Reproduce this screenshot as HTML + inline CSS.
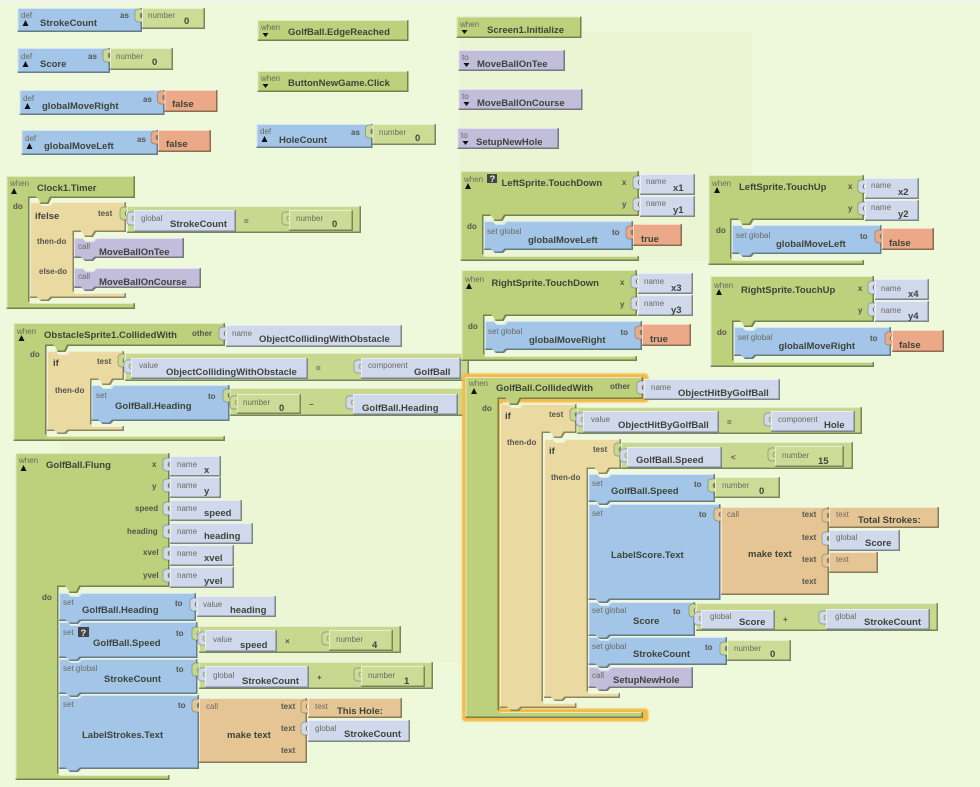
<!DOCTYPE html>
<html><head><meta charset="utf-8"><style>
html,body{margin:0;padding:0;background:#eef8da}
svg{display:block;filter:blur(.3px)}
svg>path,svg>rect{filter:url(#b)}
svg>use{stroke:#43503f;stroke-opacity:.5;stroke-width:.7}
svg>.n{filter:none}
svg>.gl{filter:blur(.7px)}
text{font:bold 9.5px "Liberation Sans",sans-serif;fill:#3d4439}
text.s{font:8px "Liberation Sans",sans-serif;fill:#6b6b60}
text.l{font:bold 8px "Liberation Sans",sans-serif;fill:#55554d}
.bl{fill:#a3c5e8}.gr{fill:#bdd07c}.ng{fill:#cddb97}.og{fill:#c8d88f}.ta{fill:#ead9a0}.pu{fill:#c1bddb}.na{fill:#d0d8ec}.or{fill:#eba987}.tt{fill:#e5c594}
.k{fill:#111}
</style></head><body>
<svg xmlns="http://www.w3.org/2000/svg" width="980" height="787" viewBox="0 0 980 787">
<defs>
<filter id="b" x="-2%" y="-2%" width="104%" height="104%" color-interpolation-filters="sRGB">
<feOffset in="SourceAlpha" dx="1" dy="1" result="o1"/>
<feComposite in="SourceAlpha" in2="o1" operator="out" result="tl"/>
<feFlood flood-color="#fff" flood-opacity=".55"/>
<feComposite in2="tl" operator="in" result="hl"/>
<feOffset in="SourceAlpha" dx="-1.5" dy="-1.5" result="o2"/>
<feComposite in="SourceAlpha" in2="o2" operator="out" result="br"/>
<feFlood flood-color="#2a3320" flood-opacity=".5"/>
<feComposite in2="br" operator="in" result="sh"/>
<feMerge><feMergeNode in="SourceGraphic"/><feMergeNode in="hl"/><feMergeNode in="sh"/></feMerge>
</filter>
<path id="t" d="M2 0h-6q-3 1-3 3v7q0 2 3 3h6v-4h-1q-3 0-3-2.500t3-2.500h1z"/>
</defs>
<rect class="n" x="0" y="0" width="980" height="787" fill="#eef8da"/>
<rect class="n" x="0" y="0" width="980" height="2" fill="#f2f3ec"/>
<rect class="n" x="460" y="31" width="292" height="230" fill="#ecf5d3"/>
<rect class="n" x="60" y="440" width="420" height="222" fill="#edf6d4"/>

<!-- defs left -->
<rect class="bl" x="17.5" y="8" width="124.5" height="24"/><use href="#t" class="ng" x="142" y="9"/><rect class="ng" x="142" y="8" width="63" height="21"/>
<text class="s" x="21" y="18">def</text><path class="n k" d="M22.5 26h6l-3-6z"/><text x="40" y="26">StrokeCount</text><text class="l" x="120" y="18">as</text><text class="s" x="148" y="18">number</text><text x="184" y="24">0</text>

<rect class="bl" x="17.5" y="48" width="92.5" height="25"/><use href="#t" class="ng" x="110" y="49"/><rect class="ng" x="110" y="48" width="63" height="22"/>
<text class="s" x="21" y="59">def</text><path class="n k" d="M22.5 67h6l-3-6z"/><text x="40" y="67">Score</text><text class="l" x="88" y="59">as</text><text class="s" x="116" y="59">number</text><text x="152" y="65">0</text>

<rect class="bl" x="19.5" y="90" width="145" height="25"/><use href="#t" class="or" x="164.5" y="91"/><rect class="or" x="164.5" y="90" width="53" height="22"/>
<text class="s" x="23" y="101">def</text><path class="n k" d="M24.5 109h6l-3-6z"/><text x="42" y="109">globalMoveRight</text><text class="l" x="143" y="102">as</text><text x="172" y="107">false</text>

<rect class="bl" x="21.5" y="130" width="136.5" height="25"/><use href="#t" class="or" x="158" y="131"/><rect class="or" x="158" y="130" width="53" height="22"/>
<text class="s" x="25" y="141">def</text><path class="n k" d="M26.5 149h6l-3-6z"/><text x="44" y="149">globalMoveLeft</text><text class="l" x="137" y="142">as</text><text x="166" y="147">false</text>

<!-- middle top -->
<rect class="gr" x="257.5" y="20" width="151" height="21"/><text class="s" x="261" y="30">when</text><path class="n k" d="M262.5 33h6l-3 4z"/><text x="288" y="35">GolfBall.EdgeReached</text>
<rect class="gr" x="257.5" y="71" width="151" height="21"/><text class="s" x="261" y="81">when</text><path class="n k" d="M262.5 84h6l-3 4z"/><text x="288" y="86">ButtonNewGame.Click</text>
<rect class="bl" x="256.5" y="124" width="116" height="24"/><use href="#t" class="ng" x="372.5" y="125"/><rect class="ng" x="372.5" y="124" width="63.5" height="21"/>
<text class="s" x="260" y="134">def</text><path class="n k" d="M261.5 142h6l-3-6z"/><text x="279" y="143">HoleCount</text><text class="l" x="351" y="135">as</text><text class="s" x="379" y="135">number</text><text x="415" y="141">0</text>

<!-- right top -->
<rect class="gr" x="456.5" y="16.5" width="125" height="21.5"/><text class="s" x="460" y="27">when</text><path class="n k" d="M461.5 30h6l-3 4z"/><text x="487" y="33">Screen1.Initialize</text>
<rect class="pu" x="458.5" y="50" width="106.5" height="21"/><text class="s" x="462" y="60">to</text><path class="n k" d="M463.5 63h6l-3 4z"/><text x="477" y="67">MoveBallOnTee</text>
<rect class="pu" x="458.5" y="89" width="124" height="21"/><text class="s" x="462" y="99">to</text><path class="n k" d="M463.5 102h6l-3 4z"/><text x="477" y="106">MoveBallOnCourse</text>
<rect class="pu" x="457.5" y="128" width="101.5" height="21"/><text class="s" x="461" y="138">to</text><path class="n k" d="M462.5 141h6l-3 4z"/><text x="476" y="145">SetupNewHole</text>

<!-- Clock1.Timer -->
<path class="gr" d="M6.5 176H135V198H51.5l-3 6h-8l-3-6H29.5V303H135V309H6.5z"/>
<path class="ta" d="M30 202h8l3 3h8l3-3H126V232H96l-3 5h-8l-3-5H74V293H126V298H52l-3 3h-8l-3-3H30z"/>
<use href="#t" class="og" x="127" y="207"/><rect class="og" x="127" y="206" width="234" height="27"/>
<use href="#t" class="na" x="134" y="212"/><rect class="na" x="134" y="210" width="102" height="22"/>
<use href="#t" class="ng" x="289" y="212"/><rect class="ng" x="289" y="210" width="64" height="21"/>
<path class="pu" d="M74 238h8l3 3h8l3-3H184V258H96l-3 3h-8l-3-3H74z"/>
<path class="pu" d="M74 268h8l3 3h8l3-3H201V288H96l-3 3h-8l-3-3H74z"/>
<text class="s" x="10" y="186">when</text><path class="n k" d="M11 194h6l-3-6z"/><text x="37" y="191">Clock1.Timer</text><text class="l" x="13" y="209">do</text>
<text x="35" y="219">ifelse</text><text class="l" x="98" y="216">test</text><text class="l" x="37" y="244">then-do</text><text class="l" x="39" y="274">else-do</text>
<text class="s" x="141" y="221">global</text><text x="170" y="227">StrokeCount</text><text class="l" x="244" y="224">=</text><text class="s" x="296" y="221">number</text><text x="332" y="227">0</text>
<text class="s" x="78" y="249">call</text><text x="99" y="255">MoveBallOnTee</text><text class="s" x="78" y="279">call</text><text x="99" y="285">MoveBallOnCourse</text>

<!-- ObstacleSprite1 -->
<path class="gr" d="M13.5 323H225V346H68.5l-3 6h-8l-3-6H46.5V436H225V441H13.5z"/>
<use href="#t" class="na" x="226" y="327"/><rect class="na" x="226" y="325" width="176" height="22"/>
<path class="ta" d="M47 351h8l3 3h8l3-3H124V380H113.5l-3 5h-8l-3-5H91.5V426H124V431H69l-3 3h-8l-3-3H47z"/>
<use href="#t" class="og" x="125" y="354"/><rect class="og" x="125" y="353" width="344" height="28"/>
<use href="#t" class="na" x="131" y="360"/><rect class="na" x="131" y="358" width="177" height="21"/>
<use href="#t" class="na" x="361" y="360"/><rect class="na" x="361" y="358" width="100" height="21"/>
<path class="bl" d="M91.5 385h8l3 3h8l3-3H229.5V421H113.5l-3 3h-8l-3-3H91.5z"/>
<use href="#t" class="og" x="230" y="389"/><rect class="og" x="230" y="388" width="235" height="28"/>
<use href="#t" class="ng" x="237" y="396"/><rect class="ng" x="237" y="394" width="64" height="20"/>
<use href="#t" class="na" x="353" y="396"/><rect class="na" x="353" y="394" width="105" height="21"/>
<text class="s" x="17" y="334">when</text><path class="n k" d="M18.5 341h6l-3-6z"/><text x="44" y="338">ObstacleSprite1.CollidedWith</text><text class="l" x="192" y="336">other</text>
<text class="s" x="232" y="336">name</text><text x="259" y="342">ObjectCollidingWithObstacle</text><text class="l" x="30" y="357">do</text>
<text x="53" y="366">if</text><text class="l" x="97" y="364">test</text><text class="l" x="55" y="393">then-do</text>
<text class="s" x="139" y="368">value</text><text x="166" y="375">ObjectCollidingWithObstacle</text><text class="l" x="316" y="371">=</text><text class="s" x="368" y="368">component</text><text x="414" y="375">GolfBall</text>
<text class="s" x="96" y="398">set</text><text x="115" y="409">GolfBall.Heading</text><text class="l" x="208" y="399">to</text>
<text class="s" x="243" y="405">number</text><text x="279" y="411">0</text><text class="l" x="309" y="407">&#8722;</text><text x="362" y="411">GolfBall.Heading</text>

<!-- GolfBall.Flung -->
<path class="gr" d="M15.5 453H169.5V587H80.5l-3 6h-8l-3-6H58.5V775H169.5V780H15.5z"/>
<use href="#t" class="na" x="170" y="458"/><rect class="na" x="170" y="456" width="51" height="20.500"/>
<use href="#t" class="na" x="170" y="479"/><rect class="na" x="170" y="477" width="51" height="21"/>
<use href="#t" class="na" x="170" y="502"/><rect class="na" x="170" y="500" width="72" height="21"/>
<use href="#t" class="na" x="170" y="525"/><rect class="na" x="170" y="523" width="83" height="21"/>
<use href="#t" class="na" x="170" y="547"/><rect class="na" x="170" y="545" width="64" height="21"/>
<use href="#t" class="na" x="170" y="569"/><rect class="na" x="170" y="567" width="64" height="21"/>
<text class="s" x="19" y="463">when</text><path class="n k" d="M20.500 471h6l-3-6z"/><text x="46" y="468">GolfBall.Flung</text>
<text class="l" x="152" y="467">x</text><text class="l" x="152" y="489">y</text><text class="l" x="135" y="511">speed</text><text class="l" x="127" y="534">heading</text><text class="l" x="143" y="555">xvel</text><text class="l" x="143" y="578">yvel</text>
<text class="s" x="177" y="467">name</text><text x="204" y="473">x</text><text class="s" x="177" y="488">name</text><text x="204" y="494">y</text><text class="s" x="177" y="511">name</text><text x="204" y="516">speed</text>
<text class="s" x="177" y="534">name</text><text x="204" y="539">heading</text><text class="s" x="177" y="556">name</text><text x="204" y="561">xvel</text><text class="s" x="177" y="578">name</text><text x="204" y="584">yvel</text>
<text class="l" x="42" y="600">do</text>
<path class="bl" d="M59 593h8l3 3h8l3-3H196V621H81l-3 3h-8l-3-3H59z"/>
<path class="bl" d="M59 622h8l3 3h8l3-3H197.500V658H81l-3 3h-8l-3-3H59z"/>
<path class="bl" d="M59 659h8l3 3h8l3-3H197.500V694H81l-3 3h-8l-3-3H59z"/>
<path class="bl" d="M59 695h8l3 3h8l3-3H199V769H81l-3 3h-8l-3-3H59z"/>
<use href="#t" class="na" x="197" y="598"/><rect class="na" x="197" y="596" width="79" height="21"/>
<use href="#t" class="og" x="199" y="627"/><rect class="og" x="199" y="626" width="202" height="27"/>
<use href="#t" class="na" x="205" y="632"/><rect class="na" x="205" y="630" width="72" height="22"/>
<use href="#t" class="ng" x="329" y="632"/><rect class="ng" x="329" y="630" width="64" height="21"/>
<use href="#t" class="og" x="199" y="663"/><rect class="og" x="199" y="662" width="234" height="27"/>
<use href="#t" class="na" x="205" y="668"/><rect class="na" x="205" y="666" width="104" height="22"/>
<use href="#t" class="ng" x="361" y="668"/><rect class="ng" x="361" y="666" width="64" height="21"/>
<use href="#t" class="tt" x="199" y="699"/><rect class="tt" x="199" y="698" width="108" height="65"/>
<use href="#t" class="tt" x="308" y="700"/><rect class="tt" x="308" y="698" width="94" height="20"/>
<use href="#t" class="na" x="308" y="722"/><rect class="na" x="308" y="720" width="102" height="22"/>
<text class="s" x="63" y="605">set</text><text x="82" y="613">GolfBall.Heading</text><text class="l" x="175" y="606">to</text><text class="s" x="203" y="607">value</text><text x="230" y="613">heading</text>
<text class="s" x="63" y="635">set</text><rect class="n" x="78" y="627" width="11" height="10" fill="#444"/><text x="80.500" y="636" style="fill:#eee">?</text><text x="93" y="646">GolfBall.Speed</text><text class="l" x="176" y="636">to</text>
<text class="s" x="213" y="642">value</text><text x="240" y="648">speed</text><text class="l" x="285" y="644">&#215;</text><text class="s" x="336" y="642">number</text><text x="372" y="648">4</text>
<text class="s" x="63" y="671">set global</text><text x="104" y="682">StrokeCount</text><text class="l" x="176" y="672">to</text>
<text class="s" x="213" y="678">global</text><text x="242" y="684">StrokeCount</text><text class="l" x="317" y="680">+</text><text class="s" x="368" y="678">number</text><text x="404" y="684">1</text>
<text class="s" x="63" y="707">set</text><text x="82" y="738">LabelStrokes.Text</text><text class="l" x="178" y="708">to</text>
<text class="s" x="206" y="709">call</text><text x="227" y="738">make text</text><text class="l" x="281" y="709">text</text><text class="l" x="281" y="731">text</text><text class="l" x="281" y="753">text</text>
<text class="s" x="315" y="709">text</text><text x="337" y="714">This Hole:</text><text class="s" x="315" y="731">global</text><text x="344" y="737">StrokeCount</text>

<!-- Sprites -->
<path class="gr" d="M460.5 171H639V216H505.500l-3 5h-8l-3-5H483.500V256H639V261H460.500z"/>
<path class="bl" d="M484 221h8l3 3h8l3-3H633V250H506l-3 3h-8l-3-3H484z"/>
<use href="#t" class="or" x="633" y="226"/><rect class="or" x="633" y="224" width="49" height="22"/>
<use href="#t" class="na" x="640" y="176"/><rect class="na" x="640" y="174" width="55" height="21"/>
<use href="#t" class="na" x="640" y="198"/><rect class="na" x="640" y="196" width="55" height="21"/>
<text class="s" x="464" y="182">when</text><rect class="n" x="487" y="174" width="10" height="9" fill="#444"/><text x="489.500" y="182" style="fill:#eee">?</text><path class="n k" d="M465 189h6l-3-6z"/><text x="501.500" y="186">LeftSprite.TouchDown</text>
<text class="l" x="622" y="185">x</text><text class="l" x="622" y="207">y</text><text class="s" x="646" y="184">name</text><text x="673" y="191">x1</text><text class="s" x="646" y="206">name</text><text x="673" y="213">y1</text>
<text class="l" x="467" y="229">do</text><text class="s" x="487" y="234">set global</text><text x="528" y="243">globalMoveLeft</text><text class="l" x="612" y="235">to</text><text x="641" y="242">true</text>

<path class="gr" d="M708.500 175H864V220H753.500l-3 5h-8l-3-5H731.500V260H864V265H708.500z"/>
<path class="bl" d="M732 225h8l3 3h8l3-3H881.500V254H754l-3 3h-8l-3-3H732z"/>
<use href="#t" class="or" x="882" y="230"/><rect class="or" x="882" y="228" width="52" height="22"/>
<use href="#t" class="na" x="865" y="180"/><rect class="na" x="865" y="178" width="54" height="21"/>
<use href="#t" class="na" x="865" y="202"/><rect class="na" x="865" y="200" width="54" height="21"/>
<text class="s" x="712" y="186">when</text><path class="n k" d="M714 193h6l-3-6z"/><text x="739" y="190">LeftSprite.TouchUp</text>
<text class="l" x="848" y="189">x</text><text class="l" x="848" y="211">y</text><text class="s" x="871" y="188">name</text><text x="898" y="195">x2</text><text class="s" x="871" y="210">name</text><text x="898" y="217">y2</text>
<text class="l" x="716" y="233">do</text><text class="s" x="736" y="238">set global</text><text x="776" y="247">globalMoveLeft</text><text class="l" x="860" y="239">to</text><text x="889" y="246">false</text>

<path class="gr" d="M461.500 270H637V316H506.500l-3 5h-8l-3-5H484.500V356H637V361H461.500z"/>
<path class="bl" d="M485 321h8l3 3h8l3-3H642V350H507l-3 3h-8l-3-3H485z"/>
<use href="#t" class="or" x="642" y="326"/><rect class="or" x="642" y="324" width="49" height="22"/>
<use href="#t" class="na" x="638" y="275"/><rect class="na" x="638" y="273" width="55" height="21"/>
<use href="#t" class="na" x="638" y="297"/><rect class="na" x="638" y="295" width="55" height="21"/>
<text class="s" x="465" y="282">when</text><path class="n k" d="M466 289h6l-3-6z"/><text x="491.500" y="286">RightSprite.TouchDown</text>
<text class="l" x="620" y="285">x</text><text class="l" x="620" y="307">y</text><text class="s" x="644" y="284">name</text><text x="671" y="291">x3</text><text class="s" x="644" y="306">name</text><text x="671" y="313">y3</text>
<text class="l" x="468" y="329">do</text><text class="s" x="488" y="334">set global</text><text x="529" y="343">globalMoveRight</text><text class="l" x="620.500" y="335">to</text><text x="650" y="342">true</text>

<path class="gr" d="M710.500 276H874V322H755.500l-3 5h-8l-3-5H733.500V362H874V367H710.500z"/>
<path class="bl" d="M734 327h8l3 3h8l3-3H891V356H756l-3 3h-8l-3-3H734z"/>
<use href="#t" class="or" x="892" y="332"/><rect class="or" x="892" y="330" width="52" height="22"/>
<use href="#t" class="na" x="875" y="281"/><rect class="na" x="875" y="279" width="54" height="21"/>
<use href="#t" class="na" x="875" y="303"/><rect class="na" x="875" y="301" width="54" height="21"/>
<text class="s" x="714" y="288">when</text><path class="n k" d="M716 295h6l-3-6z"/><text x="741" y="293">RightSprite.TouchUp</text>
<text class="l" x="858" y="291">x</text><text class="l" x="858" y="313">y</text><text class="s" x="881" y="291">name</text><text x="908" y="297">x4</text><text class="s" x="881" y="313">name</text><text x="908" y="319">y4</text>
<text class="l" x="717" y="335">do</text><text class="s" x="738" y="340">set global</text><text x="778.500" y="349">globalMoveRight</text><text class="l" x="870" y="341">to</text><text x="899" y="348">false</text>

<!-- GolfBall.CollidedWith -->
<path class="n gl" d="M465.500 377H645V399H499V712H645V718H465.500z" fill="#f5bb48" stroke="#f5bb48" stroke-width="7" stroke-linejoin="round"/>
<path class="gr" d="M465.500 377H643V399H521l-3 6h-8l-3-6H499V712H643V718H465.500z"/>
<use href="#t" class="na" x="644" y="381"/><rect class="na" x="644" y="379" width="136" height="21"/>
<path class="ta" d="M500 404h8l3 3h8l3-3H576.500V433H565l-3 5h-8l-3-5H543V703H576.500V708H522l-3 3h-8l-3-3H500z"/>
<use href="#t" class="og" x="577" y="408"/><rect class="og" x="577" y="407" width="285" height="27"/>
<use href="#t" class="na" x="583" y="413"/><rect class="na" x="583" y="411" width="136" height="22"/>
<use href="#t" class="na" x="771" y="413"/><rect class="na" x="771" y="411" width="84" height="21"/>
<path class="ta" d="M544 439h8l3 3h8l3-3H621V469H610l-3 5h-8l-3-5H588V693H620V698H566l-3 3h-8l-3-3H544z"/>
<use href="#t" class="og" x="621" y="443"/><rect class="og" x="621" y="442" width="232" height="27"/>
<use href="#t" class="na" x="627" y="449"/><rect class="na" x="627" y="447" width="95" height="21"/>
<use href="#t" class="ng" x="775" y="448"/><rect class="ng" x="775" y="446" width="69" height="21"/>
<path class="bl" d="M588.500 474h8l3 3h8l3-3H715V502H610.500l-3 3h-8l-3-3H588.500z"/>
<path class="bl" d="M588.500 504h8l3 3h8l3-3H720.500V600H610.500l-3 3h-8l-3-3H588.500z"/>
<path class="bl" d="M588.500 602h8l3 3h8l3-3H695V636H610.500l-3 3h-8l-3-3H588.500z"/>
<path class="bl" d="M588.500 637h8l3 3h8l3-3H727V665H610.500l-3 3h-8l-3-3H588.500z"/>
<path class="pu" d="M588.500 667h8l3 3h8l3-3H693V688H610.500l-3 3h-8l-3-3H588.500z"/>
<use href="#t" class="ng" x="715" y="479"/><rect class="ng" x="715" y="477" width="65" height="21"/>
<use href="#t" class="tt" x="721" y="508"/><rect class="tt" x="721" y="507" width="108" height="88"/>
<use href="#t" class="tt" x="829" y="509"/><rect class="tt" x="829" y="507" width="110" height="21"/>
<use href="#t" class="na" x="829" y="532"/><rect class="na" x="829" y="530" width="71" height="21"/>
<use href="#t" class="tt" x="829" y="554"/><rect class="tt" x="829" y="552" width="49" height="21"/>
<use href="#t" class="og" x="696" y="604"/><rect class="og" x="696" y="603" width="242" height="28"/>
<use href="#t" class="na" x="701" y="612"/><rect class="na" x="701" y="610" width="74" height="20"/>
<use href="#t" class="na" x="826" y="611"/><rect class="na" x="826" y="609" width="104" height="21"/>
<use href="#t" class="ng" x="727" y="642"/><rect class="ng" x="727" y="640" width="64" height="21"/>
<text class="s" x="469" y="386">when</text><path class="n k" d="M471 394h6l-3-6z"/><text x="496" y="391">GolfBall.CollidedWith</text><text class="l" x="610" y="389">other</text>
<text class="s" x="651" y="390">name</text><text x="678" y="396">ObjectHitByGolfBall</text><text class="l" x="482" y="411">do</text>
<text x="505" y="419">if</text><text class="l" x="549" y="417">test</text><text class="l" x="507" y="445">then-do</text>
<text class="s" x="591" y="422">value</text><text x="618" y="428">ObjectHitByGolfBall</text><text class="l" x="727" y="425">=</text><text class="s" x="778" y="422">component</text><text x="824" y="428">Hole</text>
<text x="549" y="454">if</text><text class="l" x="593" y="452">test</text><text class="l" x="551" y="480">then-do</text>
<text x="636" y="463">GolfBall.Speed</text><text class="l" x="731" y="460">&lt;</text><text class="s" x="782" y="458">number</text><text x="818" y="464">15</text>
<text class="s" x="592" y="486">set</text><text x="611" y="494">GolfBall.Speed</text><text class="l" x="694" y="487">to</text><text class="s" x="722" y="488">number</text><text x="759" y="494">0</text>
<text class="s" x="592" y="516">set</text><text x="611" y="558">LabelScore.Text</text><text class="l" x="699" y="517">to</text>
<text class="s" x="727" y="517">call</text><text x="748" y="557">make text</text><text class="l" x="802" y="517">text</text><text class="l" x="802" y="540">text</text><text class="l" x="802" y="562">text</text><text class="l" x="802" y="584">text</text>
<text class="s" x="836" y="517">text</text><text x="858" y="523">Total Strokes:</text><text class="s" x="836" y="540">global</text><text x="865" y="546">Score</text><text class="s" x="836" y="562">text</text>
<text class="s" x="592" y="613">set global</text><text x="633" y="624">Score</text><text class="l" x="673" y="614">to</text>
<text class="s" x="710" y="619">global</text><text x="739" y="625">Score</text><text class="l" x="783" y="622">+</text><text class="s" x="835" y="619">global</text><text x="864" y="625">StrokeCount</text>
<text class="s" x="592" y="649">set global</text><text x="633" y="657">StrokeCount</text><text class="l" x="705" y="650">to</text><text class="s" x="734" y="651">number</text><text x="770" y="657">0</text>
<text class="s" x="592" y="678">call</text><text x="613" y="683">SetupNewHole</text>
</svg>
</body></html>
